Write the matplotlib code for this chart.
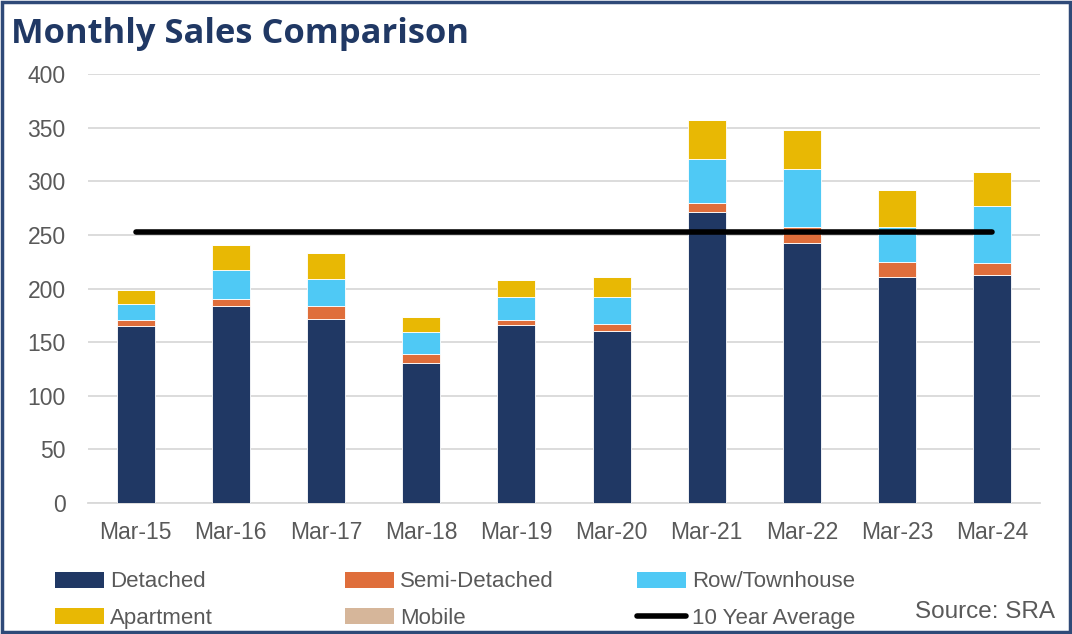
import matplotlib
matplotlib.use("Agg")
import matplotlib.pyplot as plt
import numpy as np
from matplotlib.patches import Patch, Rectangle
from matplotlib.lines import Line2D

plt.rcParams['font.family'] = ['Liberation Sans', 'DejaVu Sans']

categories = ["Mar-15", "Mar-16", "Mar-17", "Mar-18", "Mar-19",
              "Mar-20", "Mar-21", "Mar-22", "Mar-23", "Mar-24"]
detached = [165, 184, 172, 131, 166, 160, 271, 242, 211, 213]
semi_detached = [6, 6, 12, 8, 5, 7, 9, 15, 14, 11]
row_townhouse = [15, 27, 25, 20, 21, 25, 41, 54, 32, 53]
apartment = [13, 24, 24, 14, 16, 19, 36, 37, 35, 32]
mobile = [0, 0, 0, 0, 0, 0, 0, 0, 0, 0]
ten_year_avg = [253] * 10

series = [
    ("Detached", detached, "#203864"),
    ("Semi-Detached", semi_detached, "#DF6E3B"),
    ("Row/Townhouse", row_townhouse, "#4FC9F5"),
    ("Apartment", apartment, "#E8B804"),
    ("Mobile", mobile, "#D6B69A"),
]

W, H = 1072, 634
fig = plt.figure(figsize=(W / 100, H / 100), dpi=100)
fig.patch.set_facecolor("white")

ax = fig.add_axes([88 / W, 1 - 503 / H, (1040 - 88) / W, (503 - 74) / H])
x = np.arange(len(categories))
bottom = np.zeros(len(categories))
for name, vals, col in series:
    v = np.array(vals, dtype=float)
    ax.bar(x, v, width=0.4, bottom=bottom, color=col, edgecolor="white",
           linewidth=0.6, zorder=3, label=name)
    bottom += v

ax.plot(x, ten_year_avg, color="black", linewidth=4, solid_capstyle="round",
        zorder=4)

ax.set_xlim(-0.5, len(categories) - 0.5)
ax.set_ylim(0, 400)
ax.set_yticks(np.arange(0, 401, 50))
ax.set_xticks(x)
ax.set_xticklabels(categories)
ax.yaxis.grid(True, color="#D9D9D9", linewidth=1.3, zorder=0)
ax.set_axisbelow(True)
for s in ["top", "right", "left"]:
    ax.spines[s].set_visible(False)
ax.spines["bottom"].set_color("#D9D9D9")
ax.spines["bottom"].set_linewidth(1.3)
ax.tick_params(axis="both", length=0, labelsize=16.5, colors="#595959")
ax.tick_params(axis="y", pad=16)
ax.tick_params(axis="x", pad=13)

# Title
fig.text(11 / W, 1 - 34 / H, "Monthly Sales Comparison", fontsize=24.8,
         fontweight="bold", color="#203864", va="center", ha="left",
         family=["Open Sans", "DejaVu Sans"])

# Legends (three columns)
def patch(col):
    return Patch(facecolor=col, edgecolor="none")

cols = [
    [("Detached", patch("#203864")), ("Apartment", patch("#E8B804"))],
    [("Semi-Detached", patch("#DF6E3B")), ("Mobile", patch("#D6B69A"))],
    [("Row/Townhouse", patch("#4FC9F5")),
     ("10 Year Average", Line2D([0], [0], color="black", linewidth=4,
                                solid_capstyle="round"))],
]
xs = [55, 345, 637]
for xpos, entries in zip(xs, cols):
    leg = fig.legend([e[1] for e in entries], [e[0] for e in entries],
                     loc="center left", bbox_to_anchor=(xpos / W, 1 - 600 / H),
                     frameon=False, fontsize=16, handlelength=2.2,
                     handleheight=0.75, handletextpad=0.28, borderpad=0,
                     borderaxespad=0, labelspacing=0.68, labelcolor="#595959")

fig.text(1055 / W, 1 - 612 / H, "Source: SRA", fontsize=17.5, color="#595959",
         ha="right", va="center")

# Frame
fig.patches.append(Rectangle((2 / W, 2 / H), 1 - 4 / W, 1 - 4 / H,
                             transform=fig.transFigure, fill=False,
                             edgecolor="#2F4A78", linewidth=2.5))

fig.savefig("out.png", dpi=100)
